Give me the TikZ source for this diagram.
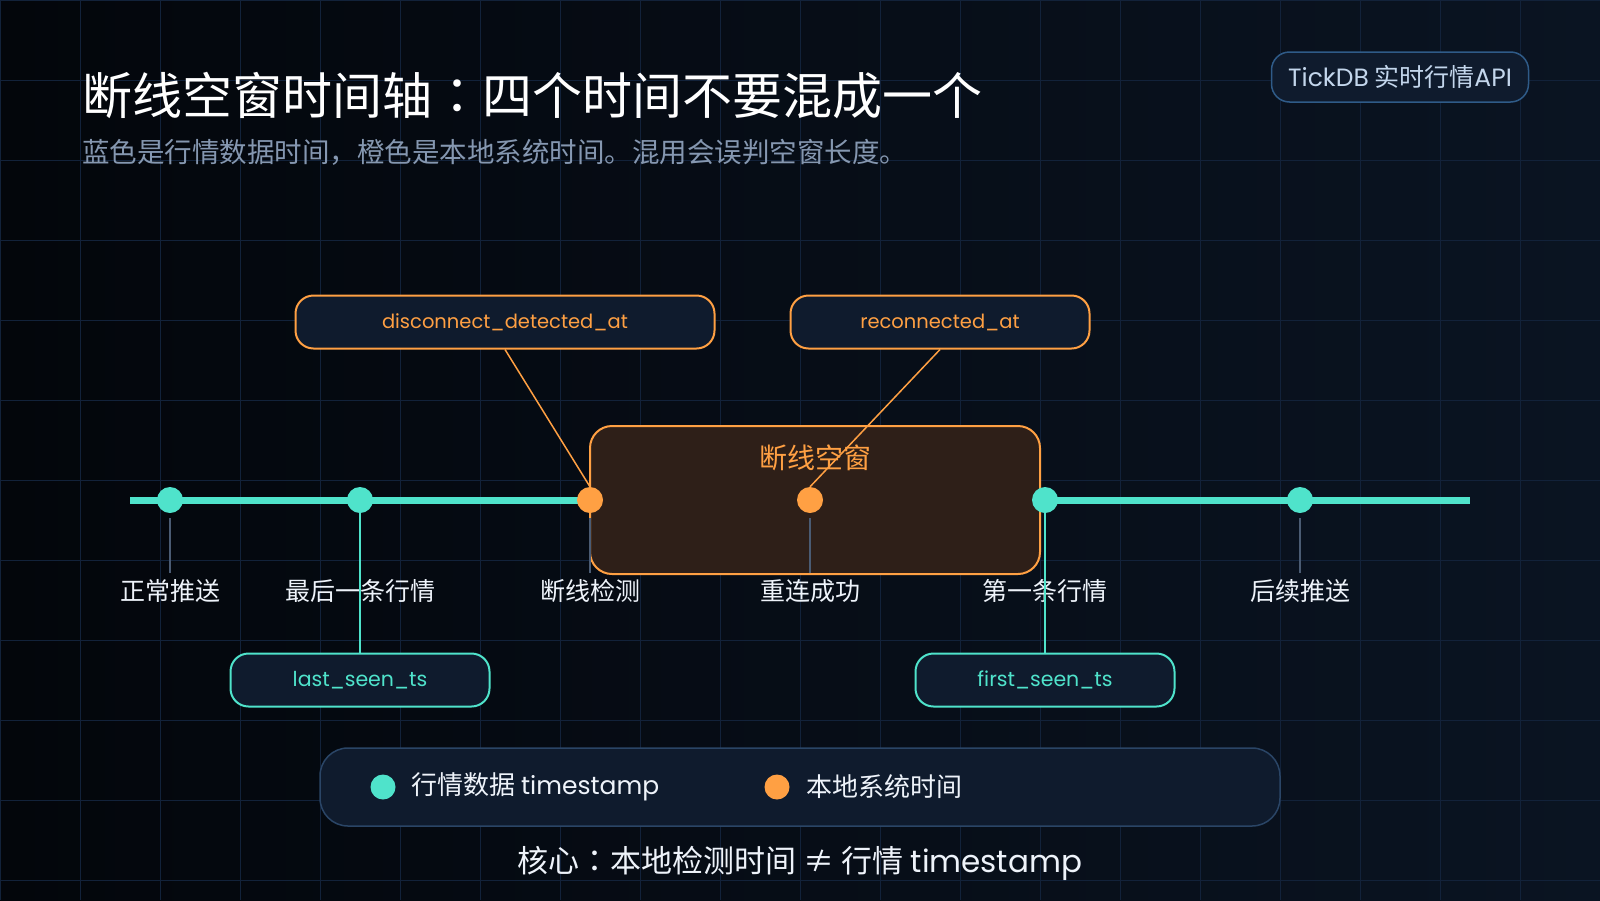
\documentclass[tikz,border=0pt]{standalone}
\usepackage{fontspec}
\setmainfont{Noto Sans CJK SC}
\newfontfamily\latfont{Poppins}
\newfontfamily\tcfont{Noto Sans CJK TC}
\usetikzlibrary{positioning}

\definecolor{bgdark}{HTML}{03060B}
\definecolor{bgnavy}{HTML}{0A1422}
\definecolor{gridc}{HTML}{12223A}
\definecolor{mktteal}{HTML}{4FE3CB}
\definecolor{sysorange}{HTML}{FFA043}
\definecolor{gapfill}{HTML}{2E1F18}
\definecolor{boxfill}{HTML}{0F1B2D}
\definecolor{tickgrey}{HTML}{4A5B73}
\definecolor{subgrey}{HTML}{8597B0}
\definecolor{badgeline}{HTML}{2F5B88}
\definecolor{badgetext}{HTML}{C3D6EC}
\definecolor{legline}{HTML}{2A4566}
\definecolor{txtwhite}{HTML}{EEF3FA}

\newcommand{\pxfont}[1]{\fontsize{#1}{#1}\selectfont}
\newcommand{\wcolon}{{\tcfont ：}}

\tikzset{
  mktdot/.style={circle, fill=mktteal, minimum size=26pt, inner sep=0pt},
  sysdot/.style={circle, fill=sysorange, minimum size=26pt, inner sep=0pt},
  evlabel/.style={text=txtwhite, font=\pxfont{25}, inner sep=0pt},
  ticker/.style={draw=tickgrey, line width=2pt},
  mktbox/.style={draw=mktteal, fill=boxfill, line width=2pt, rounded corners=18pt,
    text=mktteal, font=\latfont\pxfont{20.5}, minimum height=53pt},
  sysbox/.style={draw=sysorange, fill=boxfill, line width=2pt, rounded corners=18pt,
    text=sysorange, font=\latfont\pxfont{19.5}, minimum height=53pt},
  mktlink/.style={draw=mktteal, line width=2pt},
  syslink/.style={draw=sysorange, line width=1.5pt}
}

\begin{document}
\begin{tikzpicture}[x=1pt, y=-1pt]
    %%%%% BACKGROUND %%%%%
    \useasboundingbox (0,0) rectangle (1600,900);
    \shade[left color=bgdark, right color=bgnavy] (0,0) rectangle (1600,900);
    \foreach \gx in {0,80,...,1600}
        \draw[gridc, line width=1pt] (\gx,0) -- (\gx,900);
    \foreach \gy in {0,80,...,880}
        \draw[gridc, line width=1pt] (0,\gy) -- (1600,\gy);

    %%%%% TITLE %%%%%
    \node[anchor=west, inner sep=0pt, text=white, font=\pxfont{50}] (title) at (82,96) {断线空窗时间轴\wcolon 四个时间不要混成一个};
    \node[anchor=west, inner sep=0pt, text=subgrey, font=\pxfont{27.5}] (subtitle) at (82,152) {蓝色是行情数据时间，橙色是本地系统时间。混用会误判空窗长度。};
    \node[draw=badgeline, fill=boxfill, line width=1.5pt, rounded corners=18pt, minimum width=257pt, minimum height=50pt,
          text=badgetext, font=\pxfont{25}] (badge) at (1400,77) {{\latfont TickDB} 实时行情{\latfont API}};

    %%%%% TIMELINE %%%%%
    \coordinate (tlstart) at (130,500);
    \coordinate (tlend) at (1470,500);
    \draw[mktteal, line width=7pt] (tlstart) -- (tlend);

    \node[draw=sysorange, fill=gapfill, line width=2pt, rounded corners=22pt, minimum width=450pt, minimum height=148pt] (gap) at (815,500) {};
    \node[text=sysorange, font=\pxfont{28}, inner sep=0pt] (gaptitle) at (815,458) {断线空窗};

    %% orange labels
    \node[sysbox, minimum width=419pt] (ddet) at (505,322) {disconnect\_detected\_at};
    \node[sysbox, minimum width=299pt] (recon) at (940,322) {reconnected\_at};

    %% dots
    \node[mktdot] (normal) at (170,500) {};
    \node[mktdot] (last) at (360,500) {};
    \node[sysdot] (detect) at (590,500) {};
    \node[sysdot] (reconn) at (810,500) {};
    \node[mktdot] (first) at (1045,500) {};
    \node[mktdot] (follow) at (1300,500) {};

    \draw[syslink] (ddet.south) -- (detect.north);
    \draw[syslink] (recon.south) -- (reconn.north);

    %% ticks and labels
    \draw[ticker] ([yshift=-5pt]normal.south) -- ++(0,55);
    \draw[ticker] ([yshift=-5pt]detect.south) -- ++(0,55);
    \draw[ticker] ([yshift=-5pt]reconn.south) -- ++(0,55);
    \draw[ticker] ([yshift=-5pt]follow.south) -- ++(0,55);

    \node[evlabel] (lnormal) at (170,591) {正常推送};
    \node[evlabel] (llast) at (360,591) {最后一条行情};
    \node[evlabel] (ldetect) at (590,591) {断线检测};
    \node[evlabel] (lreconn) at (810,591) {重连成功};
    \node[evlabel] (lfirst) at (1045,591) {第一条行情};
    \node[evlabel] (lfollow) at (1300,591) {后续推送};

    %% teal labels
    \node[mktbox, minimum width=259pt] (lastts) at (360,680) {last\_seen\_ts};
    \node[mktbox, minimum width=259pt] (firstts) at (1045,680) {first\_seen\_ts};
    \draw[mktlink] (last.south) -- (lastts.north);
    \draw[mktlink] (first.south) -- (firstts.north);

    %%%%% LEGEND %%%%%
    \node[draw=legline, fill=boxfill, line width=1.5pt, rounded corners=28pt, minimum width=960pt, minimum height=78pt] (legend) at (800,787) {};
    \node[circle, fill=mktteal, minimum size=25pt, inner sep=0pt] (legmkt) at (383,787) {};
    \node[anchor=west, inner sep=0pt, text=txtwhite, font=\pxfont{26}] (legmkttxt) at (411,787) {行情数据 {\latfont\pxfont{25}timestamp}};
    \node[circle, fill=sysorange, minimum size=25pt, inner sep=0pt] (legsys) at (777,787) {};
    \node[anchor=west, inner sep=0pt, text=txtwhite, font=\pxfont{26}] (legsystxt) at (806,787) {本地系统时间};

    \node[text=txtwhite, font=\pxfont{31}, inner sep=0pt] (core) at (800,863) {核心\wcolon 本地检测时间 ≠ 行情 {\latfont timestamp}};
\end{tikzpicture}
\end{document}
